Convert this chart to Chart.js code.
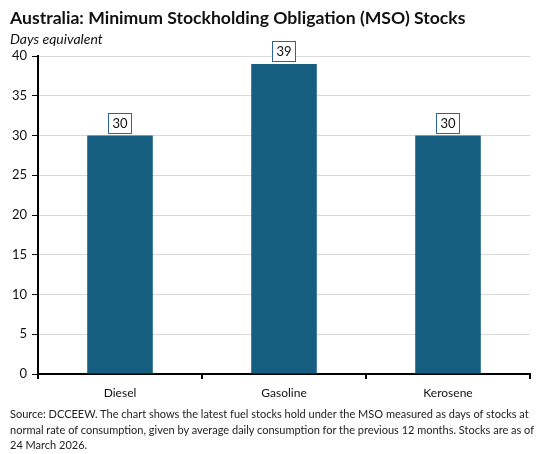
<!DOCTYPE html>
<html>
<head>
<meta charset="utf-8">
<script src="https://cdn.jsdelivr.net/npm/chart.js@4.4.1/dist/chart.umd.min.js"></script>
<style>
  html, body { margin: 0; padding: 0; background: #fff; }
  #wrap { position: relative; width: 549px; height: 454px; overflow: hidden; font-family: Lato, "Noto Sans", sans-serif; color: #111; }
  #chart { position: absolute; left: 0; top: 0; }
  .title { position: absolute; left: 10px; top: 7px; font-size: 17.6px; font-weight: 700; white-space: nowrap; }
  .sub { position: absolute; left: 10px; top: 30px; font-size: 14px; font-style: italic; white-space: nowrap; }
  .note { position: absolute; left: 10px; top: 406px; font-size: 11px; line-height: 15.5px; color: #222; white-space: nowrap; }
</style>
</head>
<body>
<div id="wrap">
  <canvas id="chart" width="549" height="454"></canvas>
  <div class="title">Australia: Minimum Stockholding Obligation (MSO) Stocks</div>
  <div class="sub">Days equivalent</div>
  <div class="note">Source: DCCEEW. The chart shows the latest fuel stocks hold under the MSO measured as days of stocks at<br>normal rate of consumption, given by average daily consumption for the previous 12 months. Stocks are as of<br>24 March 2026.</div>
</div>
<script>
const categories = ['Diesel', 'Gasoline', 'Kerosene'];
const daysOfStock = [30, 39, 30];
const yMin = 0;
const yMax = 40;
const yStep = 5;

const barColor = '#175f80';

// boxed value labels above each bar
const boxLabels = {
  id: 'boxLabels',
  afterDatasetsDraw(chart) {
    const ctx = chart.ctx;
    const meta = chart.getDatasetMeta(0);
    ctx.save();
    ctx.font = '13px Lato, "Noto Sans", sans-serif';
    ctx.textAlign = 'center';
    ctx.textBaseline = 'middle';
    meta.data.forEach((bar, i) => {
      const txt = String(daysOfStock[i]);
      const w = ctx.measureText(txt).width + 8;
      const h = 20;
      const bottom = bar.y - 3;
      ctx.fillStyle = '#fff';
      ctx.fillRect(bar.x - w / 2, bottom - h, w, h);
      ctx.strokeStyle = '#2e63a0';
      ctx.lineWidth = 1;
      ctx.strokeRect(Math.round(bar.x - w / 2) + 0.5, Math.round(bottom - h) + 0.5, Math.round(w), h);
      ctx.fillStyle = '#111';
      ctx.fillText(txt, bar.x, bottom - h / 2 + 1);
    });
    ctx.restore();
  }
};

new Chart(document.getElementById('chart'), {
  type: 'bar',
  data: {
    labels: categories,
    datasets: [{
      data: daysOfStock,
      backgroundColor: barColor,
      barPercentage: 0.4,
      categoryPercentage: 1
    }]
  },
  options: {
    responsive: false,
    animation: false,
    layout: { padding: { left: 0, right: 19, top: 56, bottom: 0 } },
    plugins: { legend: { display: false }, tooltip: { enabled: false } },
    scales: {
      x: {
        afterFit(scale) { scale.height = 80; },
        grid: { offset: true, drawOnChartArea: false, tickColor: '#000', tickLength: 5, lineWidth: 2 },
        border: { color: '#000', width: 2 },
        ticks: { color: '#111', padding: 7, font: { size: 12, family: 'Lato, "Noto Sans", sans-serif' } }
      },
      y: {
        min: yMin,
        max: yMax,
        afterFit(scale) { scale.width = 38; },
        grid: { color: '#d9d9d9', tickColor: '#000', tickLength: 6, lineWidth: 1 },
        border: { color: '#000', width: 2 },
        ticks: { stepSize: yStep, color: '#111', padding: 5, font: { size: 13, family: 'Lato, "Noto Sans", sans-serif' } }
      }
    }
  },
  plugins: [boxLabels]
});
</script>
</body>
</html>
